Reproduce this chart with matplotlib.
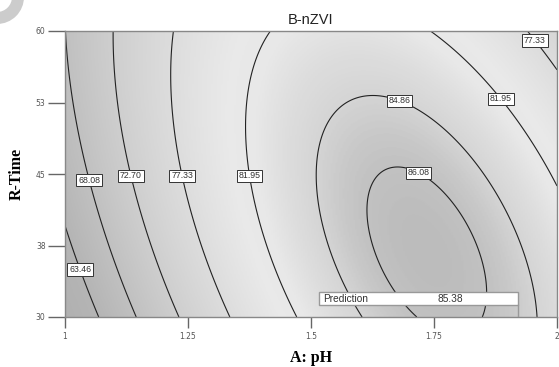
import numpy as np
import matplotlib
matplotlib.use("Agg")
import matplotlib.pyplot as plt
from matplotlib.colors import LinearSegmentedColormap, Normalize
from matplotlib.patches import Rectangle, Wedge

# ---- data: fitted quadratic response-surface model (coded units) ----
# terms: intercept, A, B, AB, A^2, B^2 ; A = (pH-1.5)/0.5, B = (time-45)/15
model_terms = ["1", "A", "B", "AB", "A2", "B2"]
model_coefs = [84.693, 8.115, 0.064, -4.521, -11.217, -1.909]
ph_range = [1.0, 2.0]
time_range = [30.0, 60.0]
contour_levels = [63.46, 68.08, 72.70, 77.33, 81.95, 84.86, 86.08]
x_ticks = [1.0, 1.25, 1.5, 1.75, 2.0]
x_ticklabels = ["1", "1.25", "1.5", "1.75", "2"]
y_ticks = [30, 37.5, 45, 52.5, 60]
y_ticklabels = ["30", "38", "45", "53", "60"]
label_spots = [(1.033, 35.0), (1.048, 44.35), (1.133, 44.8), (1.238, 44.8),
               (1.375, 44.8), (1.682, 52.96), (1.888, 52.96), (1.959, 59.16),
               (1.722, 45.46)]
pred_ph, pred_time, pred_value = 1.92, 30.0, 85.38
title = "B-nZVI"
xlabel = "A: pH"
ylabel = "R-Time"

# ---- surface ----
ph = np.linspace(ph_range[0], ph_range[1], 300)
tm = np.linspace(time_range[0], time_range[1], 300)
PH, TM = np.meshgrid(ph, tm)
A = (PH - 1.5) / 0.5
B = (TM - 45) / 15
c = dict(zip(model_terms, model_coefs))
Z = c["1"] + c["A"] * A + c["B"] * B + c["AB"] * A * B + c["A2"] * A ** 2 + c["B2"] * B ** 2

# grey shading (greyscale of a rainbow ramp: darkest low, lightest mid, medium high)
vmin, vmax = 58.0, 86.6
nodes = [(58.0, 0.69), (63.5, 0.71), (68.0, 0.755), (72.7, 0.81), (77.3, 0.865),
         (81.0, 0.915), (82.5, 0.91), (84.9, 0.835), (86.0, 0.765), (86.6, 0.74)]
cmap = LinearSegmentedColormap.from_list(
    "dxgrey", [((v - vmin) / (vmax - vmin), (g, g, g)) for v, g in nodes])

fig = plt.figure(figsize=(5.59, 3.67), dpi=100)
ax = fig.add_axes([65 / 559, 50 / 367, 492 / 559, 286 / 367])

ax.imshow(Z, origin="lower", extent=[ph_range[0], ph_range[1], time_range[0], time_range[1]],
          aspect="auto", cmap=cmap, norm=Normalize(vmin, vmax), interpolation="bilinear", zorder=0)
cs = ax.contour(PH, TM, Z, levels=contour_levels, colors="#222222", linewidths=0.8, zorder=2)
texts = ax.clabel(cs, fmt="%.2f", manual=label_spots, inline=False, fontsize=6.3, colors="#333333")
for t in texts:
    t.set_rotation(0)
    t.set_fontfamily("Liberation Sans")
    t.set_bbox(dict(boxstyle="square,pad=0.2", fc="white", ec="#333333", lw=0.7))
    t.set_zorder(5)

# prediction flag
bw, bh, b0 = 0.403, 1.37, 1.23
ax.add_patch(Rectangle((pred_ph - bw, pred_time + b0), bw, bh, fc="white", ec="#999999",
                       lw=1.0, zorder=6))
ax.plot([pred_ph, pred_ph], [pred_time, pred_time + b0], color="#999999", lw=1.0, zorder=6)
ax.text(pred_ph - bw + 0.008, pred_time + b0 + bh / 2, "Prediction", fontsize=7.3,
        family="Liberation Sans", color="#333333", va="center", ha="left", zorder=7)
ax.text(pred_ph - 0.136, pred_time + b0 + bh / 2, f"{pred_value:.2f}", fontsize=7.3,
        family="Liberation Sans", color="#333333", va="center", ha="center", zorder=7)

ax.set_xlim(ph_range)
ax.set_ylim(time_range)
ax.set_xticks(x_ticks)
ax.set_xticklabels(x_ticklabels)
ax.set_yticks(y_ticks)
ax.set_yticklabels(y_ticklabels)
ax.tick_params(axis="x", direction="out", length=8, width=1, color="#666666",
               labelsize=5.5, labelcolor="#555555", pad=3)
ax.tick_params(axis="y", direction="out", length=12, width=1, color="#666666",
               labelsize=5.5, labelcolor="#555555", pad=2)
for s in ax.spines.values():
    s.set_color("#888888")
    s.set_linewidth(1.0)

ax.set_title(title, fontsize=10.5, family="Liberation Sans", color="#222222", pad=5)
ax.set_xlabel(xlabel, fontsize=11.5, family="Liberation Serif", fontweight="bold", labelpad=6)
ax.set_ylabel(ylabel, fontsize=11.5, family="Liberation Serif", fontweight="bold", labelpad=8)

# corner artifact ring
fig.patches.append(Wedge((-3, 370), 27, 270, 360, width=12, transform=None,
                         fc="#cccccc", ec="none"))

fig.savefig("out.png", dpi=100)
